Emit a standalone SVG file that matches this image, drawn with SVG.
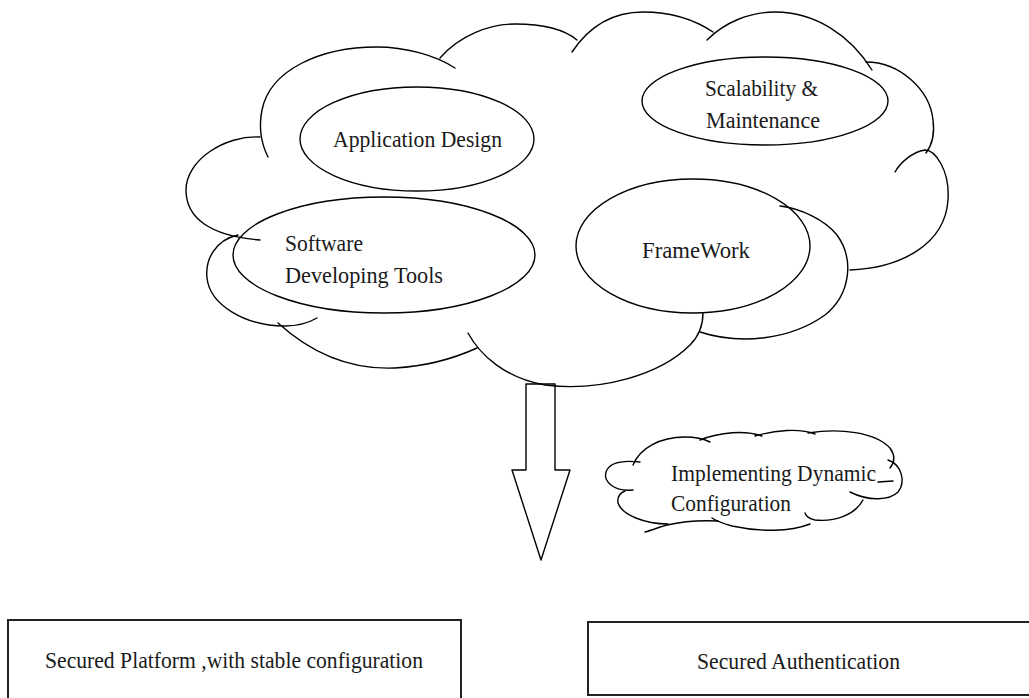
<svg xmlns="http://www.w3.org/2000/svg" width="1029" height="698" viewBox="0 0 1029 698">
<style>
.ln{fill:none;stroke:#000;stroke-width:1.4;stroke-linecap:round;stroke-linejoin:round}
.el{fill:none;stroke:#000;stroke-width:1.4}
.bx{fill:none;stroke:#222;stroke-width:2}
.tx{font-family:"Liberation Serif","Times New Roman",serif;font-size:23px;fill:#1a1a1a}
</style>
<rect x="0" y="0" width="1029" height="698" fill="#fff"/>
<g id="main-cloud">
<path class="ln" d="M 268 157 C 262 145, 258 130, 262 110 C 270 70, 320 47, 377 47 C 405 47, 435 55, 455 68"/>
<path class="ln" d="M 440 58 C 460 35, 490 24, 515 24 C 545 24, 565 30, 577 40"/>
<path class="ln" d="M 572 52 C 590 25, 615 12, 643 12 C 670 12, 695 20, 713 32"/>
<path class="ln" d="M 707 40 C 725 22, 750 12, 775 12 C 815 12, 850 35, 872 70"/>
<path class="ln" d="M 866 62 C 900 62, 930 90, 933 120 C 935 135, 932 145, 926 153"/>
<path class="ln" d="M 850 270 C 900 268, 945 245, 948 200 C 950 170, 935 150, 925 150 C 912 152, 900 163, 895 172"/>
<path class="ln" d="M 700 332 C 740 345, 790 340, 825 315 C 850 295, 855 260, 837 235 C 825 220, 800 208, 780 206"/>
<path class="ln" d="M 468 333 C 480 355, 505 378, 545 385 C 600 392, 660 375, 690 345 C 700 335, 703 325, 703 313"/>
<path class="ln" d="M 278 323 C 310 352, 350 370, 395 368 C 430 366, 455 358, 477 348"/>
<path class="ln" d="M 238 235 C 215 240, 205 260, 207 278 C 210 305, 245 326, 285 326 C 300 326, 310 322, 317 318"/>
<path class="ln" d="M 260 137 C 225 135, 186 160, 186 190 C 186 218, 210 236, 260 240"/>
</g>
<g id="node-app-design">
<ellipse class="el" cx="417" cy="139" rx="117" ry="52"/>
<text class="tx" x="333" y="147" textLength="169" lengthAdjust="spacingAndGlyphs">Application Design</text>
</g>
<g id="node-scalability">
<ellipse class="el" cx="765" cy="101" rx="123" ry="44"/>
<text class="tx" x="705" y="96" textLength="113" lengthAdjust="spacingAndGlyphs">Scalability &amp;</text>
<text class="tx" x="706" y="128" textLength="114" lengthAdjust="spacingAndGlyphs">Maintenance</text>
</g>
<g id="node-software">
<ellipse class="el" cx="384" cy="255" rx="151" ry="58"/>
<text class="tx" x="285" y="251" textLength="78" lengthAdjust="spacingAndGlyphs">Software</text>
<text class="tx" x="285" y="283" textLength="158" lengthAdjust="spacingAndGlyphs">Developing Tools</text>
</g>
<g id="node-framework">
<ellipse class="el" cx="693" cy="246" rx="117" ry="67"/>
<text class="tx" x="642" y="258" textLength="108" lengthAdjust="spacingAndGlyphs">FrameWork</text>
</g>
<g id="connectors">
<polygon class="ln" points="526,384 555,384 555,470 570,470 541,560 512,470 526,470"/>
</g>
<g id="node-dynamic-config">
<path class="ln" d="M 633 465 C 640 448, 660 437, 685 437 C 695 437, 702 438, 710 442"/>
<path class="ln" d="M 700 440 C 720 432, 745 430, 762 436"/>
<path class="ln" d="M 755 436 C 775 430, 800 428, 815 434"/>
<path class="ln" d="M 808 433 C 840 428, 875 432, 890 448 C 895 455, 895 462, 890 468"/>
<path class="ln" d="M 888 460 C 902 465, 906 482, 898 492 C 890 500, 870 502, 850 492"/>
<path class="ln" d="M 878 482 L 893 481"/>
<path class="ln" d="M 863 500 C 855 515, 835 522, 815 520 C 810 519, 806 516, 805 513"/>
<path class="ln" d="M 810 524 C 790 532, 760 532, 732 526 C 725 524, 718 522, 712 518"/>
<path class="ln" d="M 718 521 C 700 520, 680 522, 667 525 C 660 527, 652 530, 645 532"/>
<path class="ln" d="M 668 524 C 645 524, 622 515, 618 503 C 617 497, 620 493, 625 491"/>
<path class="ln" d="M 633 490 C 615 492, 603 482, 606 472 C 609 463, 622 460, 640 462"/>
<text class="tx" x="671" y="481" textLength="205" lengthAdjust="spacingAndGlyphs">Implementing Dynamic</text>
<text class="tx" x="671" y="511" textLength="120" lengthAdjust="spacingAndGlyphs">Configuration</text>
</g>
<g id="node-secured-platform">
<rect class="bx" x="8" y="620" width="453" height="90"/>
<text class="tx" x="45" y="668" textLength="378" lengthAdjust="spacingAndGlyphs">Secured Platform ,with stable configuration</text>
</g>
<g id="node-secured-auth">
<rect class="bx" x="588" y="622" width="460" height="73"/>
<text class="tx" x="697" y="669" textLength="203" lengthAdjust="spacingAndGlyphs">Secured Authentication</text>
</g>
</svg>
